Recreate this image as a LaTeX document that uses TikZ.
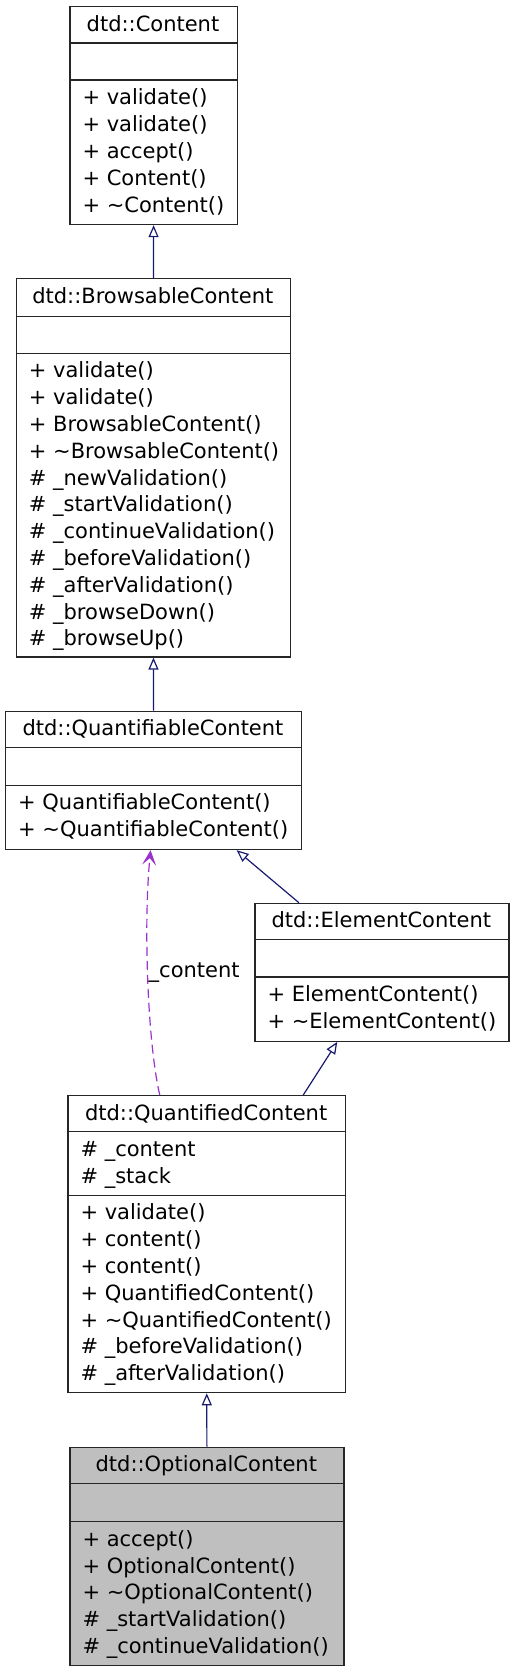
\documentclass[tikz,border=0pt]{standalone}
\usepackage{fontspec}
\setmainfont{DejaVu Sans}
\usetikzlibrary{arrows.meta,calc}
\definecolor{midblue}{HTML}{191970}
\definecolor{usepurple}{HTML}{9A32CD}
\definecolor{hlgrey}{HTML}{BFBFBF}
\newcommand\classlines[4]{%
  \foreach \t [count=\i] in {#4} {\node[txt] (#1\i) at (#2,{#3+(\i-1)*26.8}) {\t};}}
\begin{document}
\begin{tikzpicture}[x=1pt,y=-1pt,
  box/.style={draw=black!85, line width=1.2pt, inner sep=0pt, anchor=north west, fill=white},
  seprule/.style={draw=black!85, line width=1.2pt},
  txt/.style={font=\fontsize{21}{26}\selectfont, inner sep=0pt, anchor=base west},
  ttl/.style={font=\fontsize{21}{26}\selectfont, inner sep=0pt, anchor=base},
  inh/.style={draw=midblue, line width=1.2pt, -{Triangle[open,length=12pt,width=10pt]}},
  use/.style={draw=usepurple, line width=1.2pt, dash pattern=on 9pt off 5pt, -{Stealth[length=15pt,width=14pt,inset=7pt]}}]
\useasboundingbox (0,0) rectangle (513,1672);

% dtd::Content
\node[box, minimum width=167.4pt, minimum height=218pt] (c) at (69.3,6) {};
\draw[seprule] (69.3,43) -- (236.7,43);
\draw[seprule] (69.3,80) -- (236.7,80);
\node[ttl] (ct) at (153,31.5) {dtd::Content};
\classlines{cop}{82.3}{105}{+ validate(),+ validate(),+ accept(),+ Content(),+ \textasciitilde Content()}

% dtd::BrowsableContent
\node[box, minimum width=274.3pt, minimum height=378.4pt] (b) at (15.7,278) {};
\draw[seprule] (15.7,316.7) -- (290,316.7);
\draw[seprule] (15.7,353.8) -- (290,353.8);
\node[ttl] (bt) at (152.85,303) {dtd::BrowsableContent};
\classlines{bop}{28.7}{377.8}{+ validate(),+ validate(),+ BrowsableContent(),+ \textasciitilde BrowsableContent(),\# \_newValidation(),\# \_startValidation(),\# \_continueValidation(),\# \_beforeValidation(),\# \_afterValidation(),\# \_browseDown(),\# \_browseUp()}

% dtd::QuantifiableContent
\node[box, minimum width=296pt, minimum height=138.3pt] (q) at (5,710.7) {};
\draw[seprule] (5,747.7) -- (301,747.7);
\draw[seprule] (5,785.3) -- (301,785.3);
\node[ttl] (qt) at (153,735.5) {dtd::QuantifiableContent};
\classlines{qop}{18}{809.8}{+ QuantifiableContent(),+ \textasciitilde QuantifiableContent()}

% dtd::ElementContent
\node[box, minimum width=254pt, minimum height=138pt] (e) at (254.3,902.7) {};
\draw[seprule] (254.3,939.3) -- (508.3,939.3);
\draw[seprule] (254.3,977) -- (508.3,977);
\node[ttl] (et) at (381.3,927.5) {dtd::ElementContent};
\classlines{eop}{267.3}{1001.5}{+ ElementContent(),+ \textasciitilde ElementContent()}

% dtd::QuantifiedContent
\node[box, minimum width=277.7pt, minimum height=297.1pt] (qd) at (67.3,1095) {};
\draw[seprule] (67.3,1131.7) -- (345,1131.7);
\draw[seprule] (67.3,1195.4) -- (345,1195.4);
\node[ttl] (qdt) at (206.15,1120) {dtd::QuantifiedContent};
\classlines{qdat}{80.3}{1156.2}{\# \_content,\# \_stack}
\classlines{qdop}{80.3}{1219.9}{+ validate(),+ content(),+ content(),+ QuantifiedContent(),+ \textasciitilde QuantifiedContent(),\# \_beforeValidation(),\# \_afterValidation()}

% dtd::OptionalContent
\node[box, fill=hlgrey, minimum width=274pt, minimum height=218.5pt] (o) at (69.3,1446.7) {};
\draw[seprule] (69.3,1483.3) -- (343.3,1483.3);
\draw[seprule] (69.3,1521.7) -- (343.3,1521.7);
\node[ttl] (ot) at (206.3,1471.5) {dtd::OptionalContent};
\classlines{oop}{82.3}{1546.2}{+ accept(),+ OptionalContent(),+ \textasciitilde OptionalContent(),\# \_startValidation(),\# \_continueValidation()}

% connectors
\draw[inh] (b.north) -- (c.south);
\draw[inh] (q.north) -- (b.south);
\draw[inh] ([xshift=-83pt]e.north) -- ([xshift=83pt]q.south);
\draw[inh] ([xshift=96.5pt]qd.north) -- ([xshift=-44.6pt]e.south);
\draw[inh] (o.north) -- (qd.south);
\draw[use] ([xshift=-47pt]qd.north) .. controls +(-12.7,-55) and +(-7,71) .. ([xshift=-3pt]q.south);
\node[txt] (lbl) at (148.5,977) {\_content};
\end{tikzpicture}
\end{document}
